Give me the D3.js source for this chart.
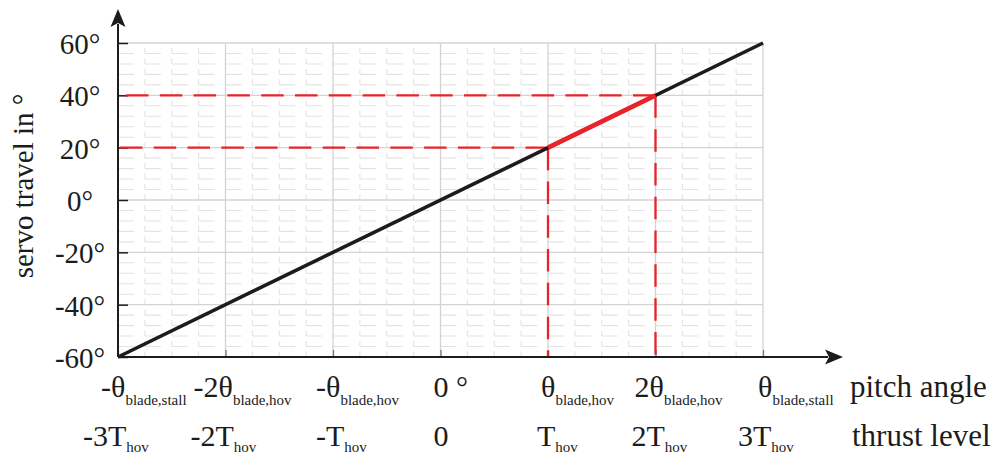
<!DOCTYPE html>
<html>
<head>
<meta charset="utf-8">
<script src="https://cdn.jsdelivr.net/npm/d3@7"></script>
<style>
  html, body { margin: 0; padding: 0; background: #fff; }
  svg { display: block; font-family: "Liberation Serif", "DejaVu Serif", serif; }
</style>
</head>
<body>
<svg id="chart" width="998" height="454"></svg>
<script>
// Servo travel vs. pitch angle / thrust level
const xTicks = [-3, -2, -1, 0, 1, 2, 3];
const yTicks = [-60, -40, -20, 0, 20, 40, 60];
const pitchMain = ["-θ", "-2θ", "-θ", "0 °", "θ", "2θ", "θ"];
const pitchSub  = ["blade,stall", "blade,hov", "blade,hov", "", "blade,hov", "blade,hov", "blade,stall"];
const thrustMain = ["-3T", "-2T", "-T", "0", "T", "2T", "3T"];
const thrustSub  = ["hov", "hov", "hov", "", "hov", "hov", "hov"];
const lineX = [-3, 3];
const lineY = [-60, 60];
const hoverX = [1, 2];
const hoverY = [20, 40];

const RED = "#e8232a";
const INK = "#1c1c1c";

const svg = d3.select("#chart");
const x = d3.scaleLinear().domain([-3, 3]).range([118, 763]);
const y = d3.scaleLinear().domain([-60, 60]).range([357, 43]);

// minor grid
const minorX = d3.range(-3, 3.0001, 0.25).filter(v => Math.abs(v - Math.round(v)) > 1e-6);
const minorY = d3.range(-60, 60.0001, 4).filter(v => v % 20 !== 0);
const stepY = Math.abs(y(0) - y(4));
const stepX = Math.abs(x(0.25) - x(0));
const gMinor = svg.append("g").attr("stroke", "#e3e3e3").attr("stroke-width", 1.1);
gMinor.selectAll("line.h").data(minorY).join("line")
  .attr("x1", x(-3)).attr("x2", x(3))
  .attr("y1", d => y(d)).attr("y2", d => y(d))
  .attr("stroke-dasharray", `16 ${stepX - 16}`);
gMinor.selectAll("line.v").data(minorX).join("line")
  .attr("x1", d => x(d)).attr("x2", d => x(d))
  .attr("y1", y(-60)).attr("y2", y(60))
  .attr("stroke-dasharray", `5.5 ${stepY - 5.5}`);

// major grid
const gMajor = svg.append("g").attr("stroke", "#d3d3d3").attr("stroke-width", 1.3);
gMajor.selectAll("line.h").data(yTicks.filter(v => v > -60)).join("line")
  .attr("x1", x(-3)).attr("x2", x(3))
  .attr("y1", d => y(d)).attr("y2", d => y(d));
gMajor.selectAll("line.v").data(xTicks.filter(v => v > -3)).join("line")
  .attr("x1", d => x(d)).attr("x2", d => x(d))
  .attr("y1", y(-60)).attr("y2", y(60));

// x axis tick marks
const xAxis = svg.append("g").attr("transform", `translate(0,${y(-60)})`)
  .call(d3.axisBottom(x).tickValues(xTicks).tickSize(-7).tickFormat(""));
xAxis.select(".domain").remove();
xAxis.selectAll(".tick line").attr("stroke", "#777").attr("stroke-width", 1.3);

// y axis with inward ticks
const yAxis = svg.append("g").attr("transform", `translate(${x(-3)},0)`)
  .call(d3.axisLeft(y).tickValues(yTicks).tickSize(-10).tickFormat(d => `${d}°`));
yAxis.select(".domain").remove();
yAxis.selectAll(".tick line").attr("stroke", INK).attr("stroke-width", 1.5);
yAxis.selectAll(".tick text")
  .attr("x", -38).attr("dy", null).attr("y", 10.5)
  .attr("text-anchor", "middle")
  .attr("font-family", "Liberation Serif").attr("font-size", 29).attr("fill", INK);

// guides to the hover range
const guides = svg.append("g").attr("fill", "none").attr("stroke", RED)
  .attr("stroke-width", 2.3).attr("stroke-dasharray", "22.5 11.3");
hoverX.forEach((hx, i) => {
  guides.append("path").attr("d", d3.line()([[x(hx), y(hoverY[i])], [x(-3), y(hoverY[i])]]));
  guides.append("path").attr("d", d3.line()([[x(hx), y(hoverY[i])], [x(hx), y(-60)]]));
});

// axes lines with arrow heads
const axes = svg.append("g");
axes.append("line").attr("x1", x(-3)).attr("x2", x(-3)).attr("y1", y(-60)).attr("y2", 24)
  .attr("stroke", INK).attr("stroke-width", 2);
axes.append("line").attr("x1", x(-3)).attr("x2", 828).attr("y1", y(-60)).attr("y2", y(-60))
  .attr("stroke", INK).attr("stroke-width", 2);
const arrow = "M0,0 L-18,-7.5 L-14,0 L-18,7.5 Z";
axes.append("path").attr("d", arrow).attr("fill", INK)
  .attr("transform", `translate(${x(-3)},9) rotate(-90)`);
axes.append("path").attr("d", arrow).attr("fill", INK)
  .attr("transform", `translate(843,${y(-60)})`);

// characteristic line and hover range
const line = d3.line().x(d => x(d[0])).y(d => y(d[1]));
svg.append("path").datum(d3.zip(lineX, lineY)).attr("d", line)
  .attr("fill", "none").attr("stroke", INK).attr("stroke-width", 3.6);
svg.append("path").datum(d3.zip(hoverX, hoverY)).attr("d", line)
  .attr("fill", "none").attr("stroke", RED).attr("stroke-width", 4.6);

// axis label
svg.append("text")
  .attr("transform", `translate(33,186) rotate(-90)`)
  .attr("text-anchor", "middle").attr("font-size", 29).attr("fill", INK)
  .text("servo travel in °");

// two rows of x labels with subscripts
const pitchShift = [-17, -32, -17, -7, -7, -21, -5];
const thrustShift = [-35, -35, -17, -7, -11, -24, -25];
function labelRow(mains, subs, shifts, baseline, subDrop) {
  const g = svg.append("g").attr("fill", INK);
  xTicks.forEach((t, i) => {
    const txt = g.append("text").attr("x", x(t) + shifts[i]).attr("y", baseline).attr("font-size", 30);
    txt.append("tspan").text(mains[i]);
    if (subs[i]) txt.append("tspan").attr("font-size", 15).attr("dy", subDrop).text(subs[i]);
  });
}
labelRow(pitchMain, pitchSub, pitchShift, 397, 8);
labelRow(thrustMain, thrustSub, thrustShift, 446, 6);

svg.append("text").attr("x", 850).attr("y", 397).attr("font-size", 31).attr("fill", INK).text("pitch angle");
svg.append("text").attr("x", 852).attr("y", 446).attr("font-size", 31).attr("fill", INK).text("thrust level");
</script>
</body>
</html>
